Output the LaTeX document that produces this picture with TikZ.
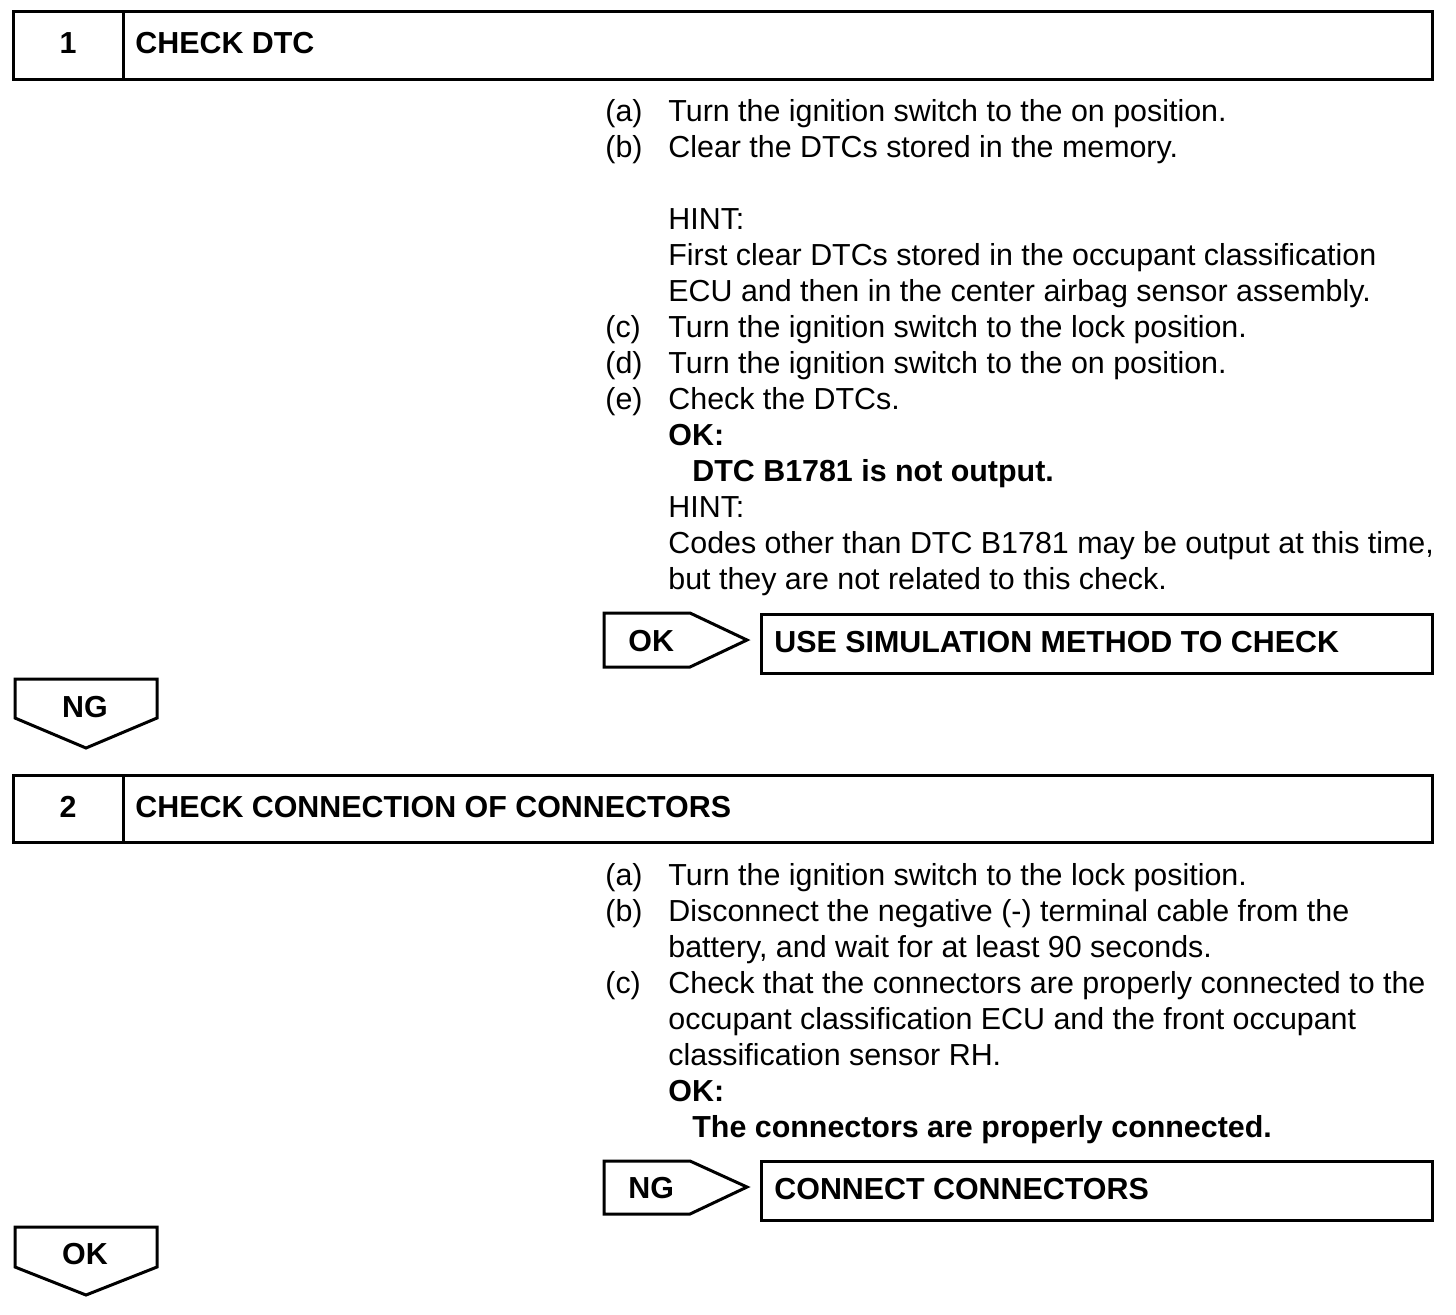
\documentclass[tikz,border=0pt]{standalone}
\usepackage{fontspec}
\setmainfont{Liberation Sans}
\begin{document}
\begin{tikzpicture}[x=0.5pt,y=-0.5pt,
  txt/.style={anchor=base west,inner sep=0pt,font=\fontsize{15.2pt}{18pt}\selectfont},
  btxt/.style={anchor=base west,inner sep=0pt,font=\fontsize{15.2pt}{18pt}\selectfont\bfseries},
  num/.style={anchor=base,inner sep=0pt,font=\fontsize{15.2pt}{18pt}\selectfont\bfseries},
  frame/.style={draw=black,line width=1.5pt,line join=miter}]
\useasboundingbox (0,0) rectangle (1456,1314);
% ---------- Header 1
\draw[frame] (13,11) rectangle (1432,79);
\draw[frame] (123,11) -- (123,79);
\node[num] (n1) at (68,53) {1};
\node[btxt] (h1) at (135,53) {CHECK DTC};
% ---------- Step 1 text
\node[txt] (a1) at (605,121) {(a)};
\node[txt] (a1t) at (668,121) {Turn the ignition switch to the on position.};
\node[txt] (b1) at (605,157) {(b)};
\node[txt] (b1t) at (668,157) {Clear the DTCs stored in the memory.};
\node[txt] (hint1) at (668,229) {HINT:};
\node[txt] (hint1a) at (668,265) {First clear DTCs stored in the occupant classification};
\node[txt] (hint1b) at (668,301) {ECU and then in the center airbag sensor assembly.};
\node[txt] (c1) at (605,337) {(c)};
\node[txt] (c1t) at (668,337) {Turn the ignition switch to the lock position.};
\node[txt] (d1) at (605,373) {(d)};
\node[txt] (d1t) at (668,373) {Turn the ignition switch to the on position.};
\node[txt] (e1) at (605,409) {(e)};
\node[txt] (e1t) at (668,409) {Check the DTCs.};
\node[btxt] (ok1) at (668,445) {OK:};
\node[btxt] (ok1t) at (692,481) {DTC B1781 is not output.};
\node[txt] (hint2) at (668,517) {HINT:};
\node[txt] (hint2a) at (668,553) {Codes other than DTC B1781 may be output at this time,};
\node[txt] (hint2b) at (668,589) {but they are not related to this check.};
% ---------- OK arrow 1
\draw[frame] (604,613) -- (690,613) -- (747,640) -- (690,667) -- (604,667) -- cycle;
\node[btxt] (okl) at (628,651) {OK};
\draw[frame] (761,614) rectangle (1432,673);
\node[btxt] (sim) at (774,652) {USE SIMULATION METHOD TO CHECK};
% ---------- NG down 1
\draw[frame] (15,679) -- (157,679) -- (157,718) -- (86,748) -- (15,718) -- cycle;
\node[num] (ngd) at (85,717) {NG};
% ---------- Header 2
\draw[frame] (13,775) rectangle (1432,842);
\draw[frame] (123,775) -- (123,842);
\node[num] (n2) at (68,817) {2};
\node[btxt] (h2) at (135,817) {CHECK CONNECTION OF CONNECTORS};
% ---------- Step 2 text
\node[txt] (a2) at (605,885) {(a)};
\node[txt] (a2t) at (668,885) {Turn the ignition switch to the lock position.};
\node[txt] (b2) at (605,921) {(b)};
\node[txt] (b2t) at (668,921) {Disconnect the negative (-) terminal cable from the};
\node[txt] (b2u) at (668,957) {battery, and wait for at least 90 seconds.};
\node[txt] (c2) at (605,993) {(c)};
\node[txt] (c2t) at (668,993) {Check that the connectors are properly connected to the};
\node[txt] (c2u) at (668,1029) {occupant classification ECU and the front occupant};
\node[txt] (c2v) at (668,1065) {classification sensor RH.};
\node[btxt] (ok2) at (668,1101) {OK:};
\node[btxt] (ok2t) at (692,1137) {The connectors are properly connected.};
% ---------- NG arrow 2
\draw[frame] (604,1161) -- (690,1161) -- (747,1187) -- (690,1214) -- (604,1214) -- cycle;
\node[btxt] (ngl) at (628,1198) {NG};
\draw[frame] (761,1161) rectangle (1432,1220);
\node[btxt] (conn) at (774,1199) {CONNECT CONNECTORS};
% ---------- OK down 2
\draw[frame] (15,1227) -- (157,1227) -- (157,1267) -- (86,1295) -- (15,1267) -- cycle;
\node[num] (okd) at (85,1264) {OK};
\end{tikzpicture}
\end{document}
